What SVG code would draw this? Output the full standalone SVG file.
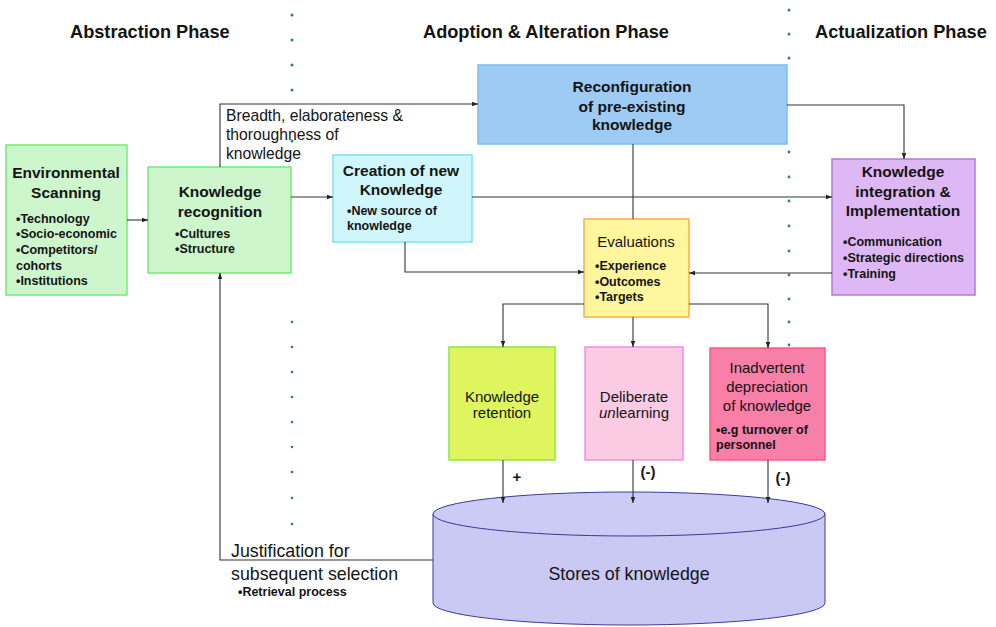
<svg xmlns="http://www.w3.org/2000/svg" width="996" height="627" viewBox="0 0 996 627">
<defs>
<style>
text{font-family:"Liberation Sans",Arial,sans-serif;fill:#141414}
.hdr{font-size:18.2px;font-weight:bold}
.t{font-size:15.5px;font-weight:bold;text-anchor:middle}
.b{font-size:12.5px;font-weight:bold}
.n{font-size:15px;text-anchor:middle}
.lbl{font-size:15.7px}
.sg{font-size:15px;font-weight:bold;text-anchor:middle}
.conn{stroke:#333;stroke-width:1.1;fill:none}
.dot{fill:#2f7d8a}
.box{stroke-width:1.5}
</style>
<marker id="ah" viewBox="0 0 8 8" refX="8" refY="4" markerWidth="6" markerHeight="6" orient="auto" markerUnits="userSpaceOnUse">
<path d="M0,1 L8,4 L0,7 z" fill="#222"/>
</marker>
</defs>
<rect width="996" height="627" fill="#fff"/>

<g id="phases">
<text class="hdr" x="70" y="38">Abstraction Phase</text>
<text class="hdr" x="423" y="38">Adoption &amp; Alteration Phase</text>
<text class="hdr" x="815" y="38">Actualization Phase</text>
</g>

<g id="dividers">
<circle class="dot" cx="292" cy="15" r="1.5"/>
<circle class="dot" cx="292" cy="40" r="1.5"/>
<circle class="dot" cx="292" cy="65" r="1.5"/>
<circle class="dot" cx="292" cy="90" r="1.5"/>
<circle class="dot" cx="292" cy="322" r="1.3"/>
<circle class="dot" cx="292" cy="347" r="1.3"/>
<circle class="dot" cx="292" cy="372" r="1.3"/>
<circle class="dot" cx="292" cy="397" r="1.3"/>
<circle class="dot" cx="292" cy="422" r="1.3"/>
<circle class="dot" cx="292" cy="447" r="1.3"/>
<circle class="dot" cx="292" cy="472" r="1.3"/>
<circle class="dot" cx="292" cy="498" r="1.3"/>
<circle class="dot" cx="292" cy="524" r="1.3"/>
<circle class="dot" cx="789" cy="10" r="1.5"/>
<circle class="dot" cx="789" cy="34" r="1.5"/>
<circle class="dot" cx="789" cy="58" r="1.5"/>
<circle class="dot" cx="789" cy="152" r="1.4"/>
<circle class="dot" cx="789" cy="177" r="1.4"/>
<circle class="dot" cx="789" cy="201" r="1.4"/>
<circle class="dot" cx="789" cy="226" r="1.4"/>
<circle class="dot" cx="789" cy="251" r="1.4"/>
<circle class="dot" cx="789" cy="275" r="1.4"/>
<circle class="dot" cx="789" cy="299" r="1.4"/>
<circle class="dot" cx="789" cy="322" r="1.4"/>
<circle class="dot" cx="789" cy="345" r="1.4"/>
</g>

<g id="env-scanning">
<rect class="box" x="6" y="145" width="121" height="150" fill="#cdf6cd" stroke="#72ec72"/>
<text class="t" x="66" y="178">Environmental</text>
<text class="t" x="66" y="198">Scanning</text>
<text class="b" x="16" y="223">•Technology</text>
<text class="b" x="16" y="238">•Socio-economic</text>
<text class="b" x="16" y="254">•Competitors/</text>
<text class="b" x="16" y="270">cohorts</text>
<text class="b" x="16" y="285">•Institutions</text>
</g>

<g id="knowledge-recognition">
<rect class="box" x="148" y="167" width="143" height="106" fill="#cdf6cd" stroke="#72ec72"/>
<text class="t" x="220" y="197">Knowledge</text>
<text class="t" x="220" y="217">recognition</text>
<text class="b" x="175" y="238">•Cultures</text>
<text class="b" x="175" y="253">•Structure</text>
</g>

<g id="creation">
<rect class="box" x="333" y="155" width="139" height="87" fill="#cff7fb" stroke="#78e6f0"/>
<text class="t" x="401" y="176">Creation of new</text>
<text class="t" x="401" y="195">Knowledge</text>
<text class="b" x="347" y="215">•New source of</text>
<text class="b" x="347" y="230">knowledge</text>
</g>

<g id="reconfiguration">
<rect class="box" x="478" y="65" width="309" height="79" fill="#9ecbf4" stroke="#7cbcf0"/>
<text class="t" x="632" y="92">Reconfiguration</text>
<text class="t" x="632" y="112">of pre-existing</text>
<text class="t" x="632" y="130">knowledge</text>
</g>

<g id="integration">
<rect class="box" x="832" y="159" width="143" height="136" fill="#ddb8f5" stroke="#b27ad8"/>
<text class="t" x="903" y="177">Knowledge</text>
<text class="t" x="903" y="197">integration &amp;</text>
<text class="t" x="903" y="216">Implementation</text>
<text class="b" x="843" y="246">•Communication</text>
<text class="b" x="843" y="262">•Strategic directions</text>
<text class="b" x="843" y="278">•Training</text>
</g>

<g id="evaluations">
<rect class="box" x="584" y="219" width="105" height="98" fill="#fff69e" stroke="#ffac4a"/>
<text class="n" x="636" y="247">Evaluations</text>
<text class="b" x="595" y="270">•Experience</text>
<text class="b" x="595" y="286">•Outcomes</text>
<text class="b" x="595" y="301">•Targets</text>
</g>

<g id="retention">
<rect class="box" x="449" y="347" width="106" height="113" fill="#def55e" stroke="#8ae83a"/>
<text class="n" x="502" y="402">Knowledge</text>
<text class="n" x="502" y="418">retention</text>
</g>

<g id="unlearning">
<rect class="box" x="585" y="347" width="98" height="113" fill="#fbcae3" stroke="#ee8cee"/>
<text class="n" x="634" y="402">Deliberate</text>
<text class="n" x="634" y="418"><tspan font-style="italic">un</tspan>learning</text>
</g>

<g id="depreciation">
<rect class="box" x="710" y="348" width="115" height="112" fill="#f77fa8" stroke="#ff5a80"/>
<text class="n" x="767" y="373">Inadvertent</text>
<text class="n" x="767" y="392">depreciation</text>
<text class="n" x="767" y="411">of knowledge</text>
<text class="b" x="716" y="434">•e.g turnover of</text>
<text class="b" x="716" y="449">personnel</text>
</g>

<g id="stores">
<path d="M433,514 V603 A196,22 0 0 0 825,603 V514 Z" fill="#c9c9f4" stroke="#3a3a9a" stroke-width="1"/>
<ellipse cx="629" cy="514" rx="196" ry="22" fill="#cbcbf6" stroke="#3a3a9a" stroke-width="1"/>
<text x="629" y="580" font-size="17.8px" text-anchor="middle">Stores of knowledge</text>
</g>

<g id="connectors">
<path class="conn" d="M127,220 H148" marker-end="url(#ah)"/>
<path class="conn" d="M220,167 V104 H478" marker-end="url(#ah)"/>
<path class="conn" d="M291,197 H333" marker-end="url(#ah)"/>
<path class="conn" d="M472,197 H832" marker-end="url(#ah)"/>
<path class="conn" d="M787,105 H904 V159" marker-end="url(#ah)"/>
<path class="conn" d="M633,144 V219"/>
<path class="conn" d="M633,317 V347" marker-end="url(#ah)"/>
<path class="conn" d="M584,304 H503 V347" marker-end="url(#ah)"/>
<path class="conn" d="M689,304 H768 V348" marker-end="url(#ah)"/>
<path class="conn" d="M405,242 V272 H584" marker-end="url(#ah)"/>
<path class="conn" d="M832,273 H689" marker-end="url(#ah)"/>
<path class="conn" d="M503,460 V503" marker-end="url(#ah)"/>
<path class="conn" d="M633,460 V503" marker-end="url(#ah)"/>
<path class="conn" d="M768,460 V503" marker-end="url(#ah)"/>
<path class="conn" d="M433,560 H220 V273" marker-end="url(#ah)"/>
<text class="lbl" x="226" y="121">Breadth, elaborateness &amp;</text>
<text class="lbl" x="226" y="140">thoroughness of</text>
<text class="lbl" x="226" y="159">knowledge</text>
<circle class="dot" cx="292" cy="141" r="1.5"/>
<text x="231" y="557" font-size="17.8px">Justification for</text>
<text x="231" y="580" font-size="17.8px">subsequent selection</text>
<text x="238" y="596" font-size="12.5px" font-weight="bold">•Retrieval process</text>
<text class="sg" x="517" y="482">+</text>
<text class="sg" x="648" y="477">(-)</text>
<text class="sg" x="783" y="483">(-)</text>
</g>
</svg>
